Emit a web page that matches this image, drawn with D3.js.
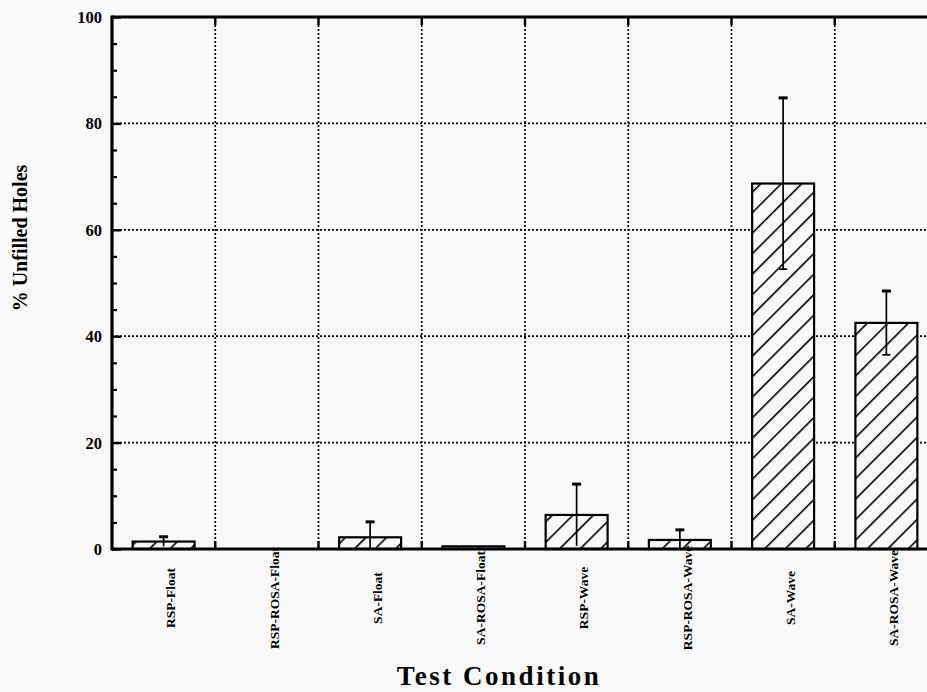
<!DOCTYPE html>
<html>
<head>
<meta charset="utf-8">
<script src="https://cdn.jsdelivr.net/npm/d3@7"></script>
<style>
  body { margin: 0; background: #f8f9f8; }
  svg { display: block; }
  text { font-family: "Liberation Serif", "DejaVu Serif", serif; font-weight: bold; fill: #000; }
</style>
</head>
<body>
<svg id="chart" width="927" height="692"></svg>
<script>
// values
const conditions = ['RSP-Float', 'RSP-ROSA-Float', 'SA-Float', 'SA-ROSA-Float',
                    'RSP-Wave', 'RSP-ROSA-Wave', 'SA-Wave', 'SA-ROSA-Wave'];
const unfilled = [1.4, 0, 2.2, 0.5, 6.4, 1.7, 68.7, 42.5];
const errors = [0.9, 0, 2.9, 0, 5.8, 1.9, 16.1, 6.0];
const yTicks = [0, 20, 40, 60, 80, 100];

const svg = d3.select('#chart')

// plot box runs off the right edge, like the scan
const pLeft = 112, pTop = 17, pBottom = 549, pRight = 938;

let x = d3.scaleBand().domain(conditions).range([pLeft, pRight]).padding(0)
let y = d3.scaleLinear().domain([0, 100]).range([pBottom, pTop])

// hatch pattern for the bars
let pat = svg.append('defs').append('pattern')
    .attr('id', 'hatch')
    .attr('patternUnits', 'userSpaceOnUse')
    .attr('width', 14.5).attr('height', 14.5)
    .attr('patternTransform', 'rotate(45)')
pat.append('rect').attr('width', 14.5).attr('height', 14.5).attr('fill', '#f8f9f8')
pat.append('line')
    .attr('x1', 0).attr('y1', 0).attr('x2', 0).attr('y2', 14.5)
    .attr('stroke', '#000').attr('stroke-width', 3.2)

// dotted grid
svg.append('g').selectAll('line')
    .data(yTicks.filter(d => d > 0 && d < 100))
    .enter().append('line')
    .attr('x1', pLeft).attr('x2', 927)
    .attr('y1', d => y(d)).attr('y2', d => y(d))
    .attr('stroke', '#000').attr('stroke-width', 1.7)
    .attr('stroke-dasharray', '2,2')

svg.append('g').selectAll('line')
    .data(conditions.slice(1))
    .enter().append('line')
    .attr('x1', d => x(d)).attr('x2', d => x(d))
    .attr('y1', pTop).attr('y2', pBottom)
    .attr('stroke', '#000').attr('stroke-width', 1.7)
    .attr('stroke-dasharray', '2,2')

// bars
let bw = x.bandwidth() * 0.6
svg.append('g').selectAll('rect')
    .data(conditions)
    .enter().append('rect')
    .attr('x', d => x(d) + (x.bandwidth() - bw) / 2)
    .attr('width', bw)
    .attr('y', (d, i) => y(unfilled[i]))
    .attr('height', (d, i) => pBottom - y(unfilled[i]))
    .attr('fill', 'url(#hatch)')
    .attr('stroke', '#000')
    .attr('stroke-width', 2.2)
    .style('display', (d, i) => unfilled[i] > 0 ? null : 'none')

// error bars
let val = d => unfilled[conditions.indexOf(d)]
let err = d => errors[conditions.indexOf(d)]
let cx = d => x(d) + x.bandwidth() / 2
let eb = svg.append('g').selectAll('g')
    .data(conditions.filter((d, i) => errors[i] > 0))
    .enter().append('g')
eb.append('line')
    .attr('x1', cx).attr('x2', cx)
    .attr('y1', d => y(Math.max(0, val(d) - err(d))))
    .attr('y2', d => y(val(d) + err(d)))
    .attr('stroke', '#000').attr('stroke-width', 1.7)
eb.append('line')
    .attr('x1', d => cx(d) - 4.5).attr('x2', d => cx(d) + 4.5)
    .attr('y1', d => y(val(d) + err(d))).attr('y2', d => y(val(d) + err(d)))
    .attr('stroke', '#000').attr('stroke-width', 3)
eb.filter(d => val(d) - err(d) > 1)
    .append('line')
    .attr('x1', d => cx(d) - 4).attr('x2', d => cx(d) + 4)
    .attr('y1', d => y(val(d) - err(d))).attr('y2', d => y(val(d) - err(d)))
    .attr('stroke', '#000').attr('stroke-width', 1.7)

// y axis with inward ticks
let yAxis = d3.axisRight(y).tickValues(yTicks).tickSize(9).tickFormat('')
let ya = svg.append('g').attr('transform', `translate(${pLeft},0)`).call(yAxis)
ya.select('.domain').remove()
ya.selectAll('line').attr('stroke-width', 2.4)
let yMinor = d3.axisRight(y).tickValues(d3.range(5, 100, 5).filter(d => d % 20)).tickSize(5).tickFormat('')
let ym = svg.append('g').attr('transform', `translate(${pLeft},0)`).call(yMinor)
ym.select('.domain').remove()
ym.selectAll('line').attr('stroke-width', 2.2)

svg.append('g').selectAll('text')
    .data(yTicks)
    .enter().append('text')
    .attr('x', pLeft - 10)
    .attr('y', d => y(d))
    .attr('dy', '0.36em')
    .attr('text-anchor', 'end')
    .attr('font-size', 16.5)
    .text(d => d)

// x ticks on top and bottom at cell edges
let edges = conditions.slice(1)
let xt = svg.append('g')
xt.selectAll('.tb').data(edges).enter().append('line')
    .attr('x1', d => x(d)).attr('x2', d => x(d))
    .attr('y1', pBottom).attr('y2', pBottom - 8)
    .attr('stroke', '#000').attr('stroke-width', 2.4)
xt.selectAll('.tt').data(edges).enter().append('line')
    .attr('x1', d => x(d)).attr('x2', d => x(d))
    .attr('y1', pTop).attr('y2', pTop + 8)
    .attr('stroke', '#000').attr('stroke-width', 2.4)

// frame
svg.append('line').attr('x1', pLeft).attr('x2', 927).attr('y1', pTop).attr('y2', pTop)
    .attr('stroke', '#000').attr('stroke-width', 3.2)
svg.append('line').attr('x1', pLeft).attr('x2', 927).attr('y1', pBottom).attr('y2', pBottom)
    .attr('stroke', '#000').attr('stroke-width', 3.2)
svg.append('line').attr('x1', pLeft).attr('x2', pLeft).attr('y1', pTop - 1.6).attr('y2', pBottom + 1.6)
    .attr('stroke', '#000').attr('stroke-width', 3.2)

// category labels, rotated
svg.append('g').selectAll('text')
    .data(conditions)
    .enter().append('text')
    .attr('transform', d => `translate(${cx(d) + 7},598) rotate(-90)`)
    .attr('dy', '0.35em')
    .attr('text-anchor', 'middle')
    .attr('font-size', 13.5)
    .text(d => d)

// axis titles
svg.append('text')
    .attr('transform', 'translate(20,238) rotate(-90)')
    .attr('dy', '0.35em')
    .attr('text-anchor', 'middle')
    .attr('font-size', 20)
    .text('% Unfilled Holes')

svg.append('text')
    .attr('x', 499).attr('y', 685)
    .attr('text-anchor', 'middle')
    .attr('font-size', 27)
    .attr('letter-spacing', 2.5)
    .text('Test Condition')
</script>
</body>
</html>
